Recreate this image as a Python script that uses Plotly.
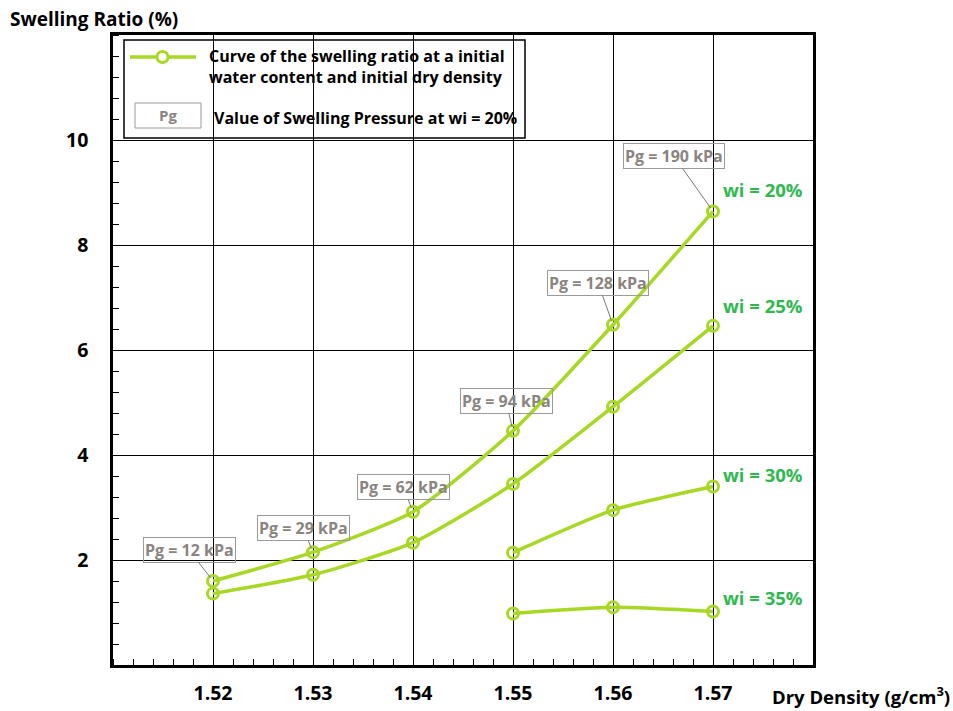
import plotly.graph_objects as go

# Dry density (g/cm3) and swelling ratio (%) per initial water content
density_all = [1.52, 1.53, 1.54, 1.55, 1.56, 1.57]
density_wet = [1.55, 1.56, 1.57]
swell_w20 = [1.60, 2.15, 2.92, 4.46, 6.48, 8.64]
swell_w25 = [1.36, 1.72, 2.33, 3.45, 4.92, 6.46]
swell_w30 = [2.14, 2.95, 3.40]
swell_w35 = [0.98, 1.10, 1.02]

series_labels = ["wi = 20%", "wi = 25%", "wi = 30%", "wi = 35%"]
label_y = [9.05, 6.85, 3.63, 1.29]

# Swelling pressure at wi = 20 %, one per density on the wi = 20 % curve
pressure_kpa = [12, 29, 62, 94, 128, 190]
pressure_offsets = [(-24, -31), (-10, -24), (-10, -25), (-7, -30), (-15, -42), (-39, -55)]

x_ticks = [1.52, 1.53, 1.54, 1.55, 1.56, 1.57]
y_ticks = [2, 4, 6, 8, 10]

LINE = "#a6d824"
LABEL_GREEN = "#2fb84e"
GREY = "#8a8480"
FONT = "Open Sans"

fig = go.Figure()

curves = [
    (density_all, swell_w20),
    (density_all, swell_w25),
    (density_wet, swell_w30),
    (density_wet, swell_w35),
]
for xs, ys in curves:
    fig.add_trace(go.Scatter(
        x=xs, y=ys, mode="lines+markers",
        line=dict(color=LINE, width=3.5, shape="spline", smoothing=0.6),
        marker=dict(symbol="circle-open", size=11, color=LINE, line=dict(width=3, color=LINE)),
        showlegend=False, hoverinfo="x+y",
    ))

annotations = []

# series labels at the right end of each curve
for text, yv in zip(series_labels, label_y):
    annotations.append(dict(
        x=1.5708, y=yv, xref="x", yref="y", text=text, showarrow=False,
        xanchor="left", yanchor="middle",
        font=dict(family=FONT, size=18.5, color=LABEL_GREEN, weight="bold"),
    ))

# swelling pressure call-outs
for xv, yv, p, (ax, ay) in zip(density_all, swell_w20, pressure_kpa, pressure_offsets):
    annotations.append(dict(
        x=xv, y=yv, xref="x", yref="y", text=f"Pg = {p} kPa",
        showarrow=True, arrowhead=0, arrowwidth=1, arrowcolor="#777777",
        ax=ax, ay=ay, standoff=4,
        bordercolor="#9a9a9a", borderwidth=1, borderpad=1,
        font=dict(family=FONT, size=16, color=GREY, weight="bold"),
    ))

# plot-area pixel helpers (plot spans 113..813 horizontally, 35..665 vertically)
def px(xp):
    return (xp - 113) / 700.0

def py(yp):
    return (665 - yp) / 630.0

# axis titles
annotations.append(dict(
    x=px(8), y=py(19), xref="paper", yref="paper", text="Swelling Ratio (%)",
    showarrow=False, xanchor="left", yanchor="middle",
    font=dict(family=FONT, size=19, color="black", weight="bold"),
))
annotations.append(dict(
    x=px(770), y=py(695), xref="paper", yref="paper", text="Dry Density (g/cm<sup>3</sup>)",
    showarrow=False, xanchor="left", yanchor="middle",
    font=dict(family=FONT, size=18.5, color="black", weight="bold"),
))

# legend texts
annotations.append(dict(
    x=px(207), y=py(66), xref="paper", yref="paper",
    text="Curve of the swelling ratio at a initial<br>water content and initial dry density",
    showarrow=False, xanchor="left", yanchor="middle", align="left",
    font=dict(family=FONT, size=16, color="black", weight="bold"),
))
annotations.append(dict(
    x=px(212), y=py(118), xref="paper", yref="paper",
    text="Value of Swelling Pressure at wi = 20%",
    showarrow=False, xanchor="left", yanchor="middle",
    font=dict(family=FONT, size=16, color="black", weight="bold"),
))
annotations.append(dict(
    x=px(168), y=py(115), xref="paper", yref="paper", text="Pg",
    showarrow=False, xanchor="center", yanchor="middle",
    font=dict(family=FONT, size=15, color=GREY, weight="bold"),
))

shapes = [
    # legend frame
    dict(type="rect", xref="paper", yref="paper", x0=px(124), x1=px(525), y0=py(138), y1=py(40),
         line=dict(color="black", width=1.5), fillcolor="rgba(0,0,0,0)"),
    # legend line sample
    dict(type="line", xref="paper", yref="paper", x0=px(130), x1=px(196), y0=py(57), y1=py(57),
         line=dict(color=LINE, width=3.5)),
    dict(type="circle", xref="paper", yref="paper", x0=px(157), x1=px(168), y0=py(62.5), y1=py(51.5),
         line=dict(color=LINE, width=3), fillcolor="white"),
    # legend Pg box
    dict(type="rect", xref="paper", yref="paper", x0=px(135), x1=px(201), y0=py(128), y1=py(103),
         line=dict(color="#9a9a9a", width=1), fillcolor="rgba(0,0,0,0)"),
]

fig.update_layout(
    width=953, height=711,
    margin=dict(l=113, r=140, t=35, b=46, autoexpand=False),
    paper_bgcolor="white", plot_bgcolor="white",
    annotations=annotations, shapes=shapes,
    xaxis=dict(
        range=[1.51, 1.58], tickmode="array", tickvals=x_ticks,
        ticktext=[f"{v:.2f}" for v in x_ticks], automargin=False,
        showgrid=True, gridcolor="black", gridwidth=1,
        showline=True, linecolor="black", linewidth=2.5, mirror=True,
        ticks="", zeroline=False, ticklabelstandoff=9,
        tickfont=dict(family=FONT, size=19.5, color="black", weight="bold"),
        minor=dict(tickmode="linear", tick0=1.51, dtick=0.002, ticks="inside",
                   ticklen=6, tickcolor="black", tickwidth=1, showgrid=False),
    ),
    yaxis=dict(
        range=[0, 12], tickmode="array", tickvals=y_ticks,
        ticktext=[str(v) for v in y_ticks], automargin=False,
        showgrid=True, gridcolor="black", gridwidth=1,
        showline=True, linecolor="black", linewidth=2.5, mirror=True,
        ticks="", zeroline=False, ticklabelstandoff=18,
        tickfont=dict(family=FONT, size=19.5, color="black", weight="bold"),
        minor=dict(tickmode="linear", tick0=0, dtick=0.4, ticks="inside",
                   ticklen=6, tickcolor="black", tickwidth=1, showgrid=False),
    ),
)

fig.write_html("out.html")
